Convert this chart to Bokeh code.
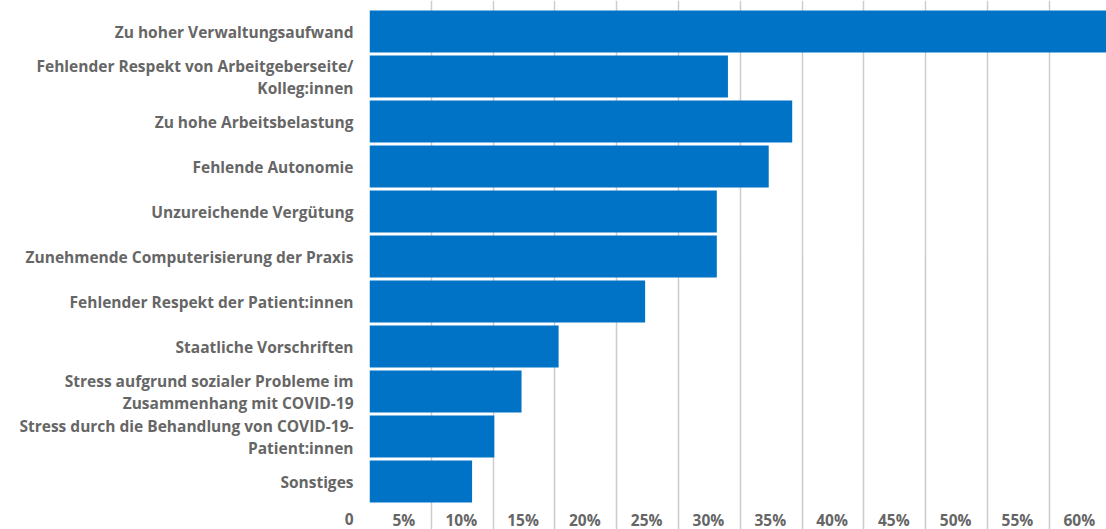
from bokeh.plotting import figure
from bokeh.models import FixedTicker, ColumnDataSource, LabelSet
from bokeh.core.properties import value
from bokeh.embed import file_html
from bokeh.resources import INLINE

categories = [
    "Zu hoher Verwaltungsaufwand",
    "Fehlender Respekt von Arbeitgeberseite/\nKolleg:innen",
    "Zu hohe Arbeitsbelastung",
    "Fehlende Autonomie",
    "Unzureichende Vergütung",
    "Zunehmende Computerisierung der Praxis",
    "Fehlender Respekt der Patient:innen",
    "Staatliche Vorschriften",
    "Stress aufgrund sozialer Probleme im\nZusammenhang mit COVID-19",
    "Stress durch die Behandlung von COVID-19-\nPatient:innen",
    "Sonstiges",
]
values = [62.0, 29.0, 34.2, 32.3, 28.1, 28.1, 22.3, 15.3, 12.3, 10.1, 8.3]
tick_values = [0, 5, 10, 15, 20, 25, 30, 35, 40, 45, 50, 55, 60]
tick_labels = ["0", "5%", "10%", "15%", "20%", "25%", "30%", "35%", "40%",
               "45%", "50%", "55%", "60%"]

FONT = "Open Sans"
TEXT_COLOR = "#666666"
BAR_COLOR = "#0073c6"
FONT_SIZE = "15.5px"

n = len(categories)
ypos = [n - 1 - i for i in range(n)]

W, H = 1106, 529
left_border = 369
px_per_unit_x = 12.36
px_per_unit_y = 45.0
x_end = (W - left_border) / px_per_unit_x
y_end = (n - 1) + 31.0 / px_per_unit_y
y_start = y_end - H / px_per_unit_y
tick_label_y = y_end - 519.0 / px_per_unit_y

p = figure(width=W, height=H, output_backend="svg", toolbar_location=None,
           x_range=(0, x_end), y_range=(y_start, y_end),
           x_axis_location=None, y_axis_location="left",
           min_border_left=left_border, min_border_right=0,
           min_border_top=0, min_border_bottom=0)
p.outline_line_color = None
p.background_fill_color = "white"
p.border_fill_color = "white"

src = ColumnDataSource(dict(y=ypos, v=values, cat=categories))
p.hbar(y="y", right="v", left=0, height=42 / 45, source=src,
       fill_color=BAR_COLOR, line_color=None)

p.xgrid.ticker = FixedTicker(ticks=tick_values)
p.xgrid.grid_line_color = "#cccccc"
p.xgrid.grid_line_width = 1.5
p.ygrid.visible = False

# category labels on the left axis; the "0" tick label sits in the same column
ax = p.yaxis[0]
ax.ticker = FixedTicker(ticks=ypos + [tick_label_y])
overrides = {y: c for y, c in zip(ypos, categories)}
overrides[tick_label_y] = tick_labels[0]
ax.major_label_overrides = overrides
ax.axis_line_color = None
ax.major_tick_line_color = None
ax.minor_tick_line_color = None
ax.major_tick_in = 0
ax.major_tick_out = 0
ax.major_label_standoff = 16
ax.major_label_text_font = FONT
ax.major_label_text_font_style = "bold"
ax.major_label_text_font_size = FONT_SIZE
ax.major_label_text_color = TEXT_COLOR
ax.major_label_text_line_height = 1.0

tsrc = ColumnDataSource(dict(x=tick_values[1:], y=[tick_label_y] * (len(tick_values) - 1),
                             t=tick_labels[1:]))
labels = LabelSet(x="x", y="y", text="t", source=tsrc, x_offset=-16,
                  text_align="right", text_baseline="middle",
                  text_font=value(FONT), text_font_style="bold",
                  text_font_size=FONT_SIZE, text_color=TEXT_COLOR)
p.add_layout(labels)

open("out.html", "w").write(file_html(p, INLINE))
